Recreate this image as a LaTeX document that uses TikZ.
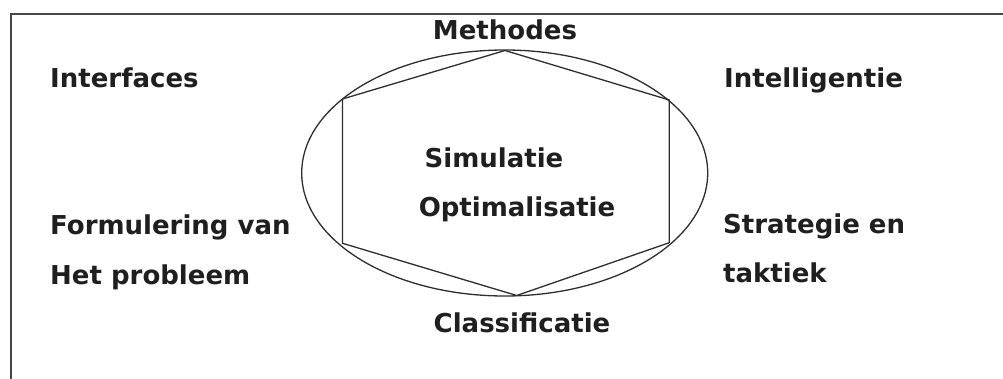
\documentclass[tikz,border=0pt]{standalone}
\usepackage{fontspec}
\setmainfont{DejaVu Sans}
\begin{document}
\begin{tikzpicture}[x=1pt,y=-1pt,
  lbl/.style={inner sep=0pt, font=\bfseries\fontsize{26}{30}\selectfont, text=black!88},
  lblw/.style={lbl, anchor=base west},
  lblc/.style={lbl, anchor=base},
  framestyle/.style={line width=2pt, draw=black!72},
  outl/.style={line width=1.3pt, draw=black!82}]
\useasboundingbox (0,0) rectangle (1003,379);

% frame (top and left edges)
\draw[framestyle] (11,379) -- (11,14) -- (1003,14);

% ellipse with inscribed hexagon
\coordinate (c) at (504.7,173);
\draw[outl] (c) ellipse [x radius=203, y radius=123];
\coordinate (ht) at (505,50.5);
\coordinate (hur) at (669.3,100);
\coordinate (hlr) at (669.3,242.7);
\coordinate (hb) at (516.7,295.5);
\coordinate (hll) at (342.5,243.3);
\coordinate (hul) at (342.5,99);
\draw[outl, line join=round] (ht) -- (hur) -- (hlr) -- (hb) -- (hll) -- (hul) -- cycle;

% labels
\node[lblc] (meth) at (505,40) {Methodes};
\node[lblc] (sim) at (494,168) {Simulatie};
\node[lblc] (opt) at (517,217) {Optimalisatie};
\node[lblc] (cls) at (522,332.5) {Classificatie};
\node[lblw] (intf) at (50,88) {Interfaces};
\node[lblw] (intl) at (724,88) {Intelligentie};
\node[lblw] (form) at (50,234.3) {Formulering van};
\node[lblw] (prob) at (50,284.3) {Het probleem};
\node[lblw] (strat) at (723,234) {Strategie en};
\node[lblw] (takt) at (723,282) {taktiek};
\end{tikzpicture}
\end{document}
